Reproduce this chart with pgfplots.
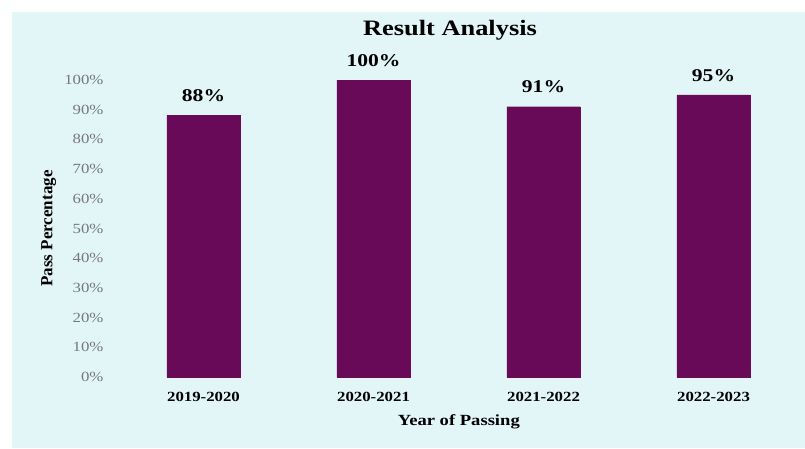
\documentclass[border=0pt]{standalone}
\usepackage{pgfplots}
\pgfplotsset{compat=1.18}
\usepackage{fontspec}
\setmainfont{Liberation Serif}
\newfontfamily\wfont[FakeStretch=1.2]{Liberation Serif}
\definecolor{barpurple}{RGB}{105,10,88}
\definecolor{panel}{RGB}{226,246,248}
\definecolor{tickgray}{RGB}{120,120,120}
\begin{document}
\begin{tikzpicture}[x=1pt,y=1pt]
\useasboundingbox (0,0) rectangle (805,448);
\fill[white] (0,0) rectangle (805,448);
\fill[panel] (12,0) rectangle (805,436);
\begin{axis}[
  at={(110pt,71pt)}, anchor=south west,
  scale only axis, width=680pt, height=297pt,
  xmin=-0.55, xmax=3.45, ymin=0, ymax=100,
  axis line style={draw=none},
  tick style={draw=none},
  clip=false,
  ytick={0,10,...,100},
  yticklabel={\pgfmathprintnumber{\tick}\%},
  /pgf/number format/assume math mode=true,
  yticklabel style={font=\wfont\fontsize{14}{14}\selectfont, text=tickgray, xshift=-3pt},
  xtick={0,1,2,3},
  xticklabels={2019-2020,2020-2021,2021-2022,2022-2023},
  xticklabel style={font=\wfont\bfseries\fontsize{14}{14}\selectfont, yshift=-7pt},
  ybar, bar width=0.43,
  nodes near coords={\pgfmathprintnumber{\pgfplotspointmeta}\%},
  nodes near coords style={font=\wfont\bfseries\fontsize{18}{18}\selectfont, text=black, yshift=10pt},
  title={Result Analysis},
  title style={font=\wfont\bfseries\fontsize{22}{22}\selectfont, at={(axis description cs:0.5,1.148)}, anchor=center},
  xlabel={Year of Passing},
  xlabel style={font=\wfont\bfseries\fontsize{15.5}{15.5}\selectfont, at={(axis description cs:0.513,-0.15)}, anchor=center},
  ylabel={Pass Percentage},
  ylabel style={font=\bfseries\fontsize{17}{17}\selectfont, at={(axis description cs:-0.09,0.5)}, anchor=center, rotate=0},
]
\addplot[fill=barpurple, draw=barpurple] coordinates {(0,88) (1,100) (2,91) (3,95)};
\end{axis}
\end{tikzpicture}
\end{document}
